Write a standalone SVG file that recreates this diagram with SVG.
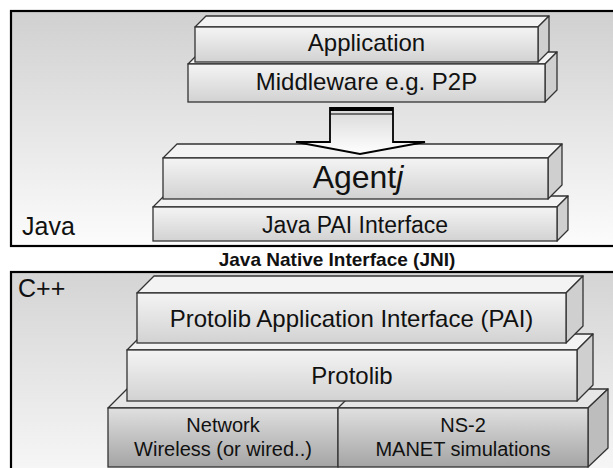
<svg xmlns="http://www.w3.org/2000/svg" width="613" height="468" viewBox="0 0 613 468">
<defs>
<linearGradient id="gJava" x1="0" y1="0" x2="0" y2="1">
<stop offset="0" stop-color="#d0d0d0"/><stop offset="1" stop-color="#fcfcfc"/>
</linearGradient>
<linearGradient id="gCpp" x1="0" y1="0" x2="0" y2="1">
<stop offset="0" stop-color="#d4d4d4"/><stop offset="1" stop-color="#f8f8f8"/>
</linearGradient>
<linearGradient id="gFront" x1="0" y1="0" x2="0" y2="1">
<stop offset="0" stop-color="#f4f4f4"/><stop offset="1" stop-color="#d2d2d2"/>
</linearGradient>
<linearGradient id="gFrontDark" x1="0" y1="0" x2="0" y2="1">
<stop offset="0" stop-color="#e0e0e0"/><stop offset="1" stop-color="#a4a4a4"/>
</linearGradient>
<linearGradient id="gArrow" x1="0" y1="0" x2="0" y2="1">
<stop offset="0" stop-color="#d8d8d8"/><stop offset="1" stop-color="#ffffff"/>
</linearGradient>
</defs>
<style>
.outer{stroke:#000;stroke-width:2.2}
.front{fill:url(#gFront);stroke:#333;stroke-width:1.3}
.frontd{fill:url(#gFrontDark);stroke:#333;stroke-width:1.3}
.top{fill:#f3f3f3;stroke:#333;stroke-width:1.3;stroke-linejoin:round}
.topd{fill:#e6e6e6;stroke:#333;stroke-width:1.3;stroke-linejoin:round}
.side{fill:#cfcfcf;stroke:#333;stroke-width:1.3;stroke-linejoin:round}
.sided{fill:#bdbdbd;stroke:#333;stroke-width:1.3;stroke-linejoin:round}
text{font-family:"Liberation Sans",Arial,Helvetica,sans-serif;fill:#111}
.c{text-anchor:middle}
</style>

<g id="java-layer">
<rect class="outer" x="11" y="11" width="612" height="235" fill="url(#gJava)"/>
<text x="22" y="235" font-size="25">Java</text>
</g>
<g id="cpp-layer">
<rect class="outer" x="11" y="272" width="612" height="210" fill="url(#gCpp)"/>
<text x="18" y="297" font-size="25">C++</text>
</g>
<g id="jni-label">
<text class="c" x="337" y="266" font-size="19" font-weight="bold">Java Native Interface (JNI)</text>
</g>

<g id="java-pai">
<polygon class="top" points="153,207 164,196 568,196 557,207"/>
<polygon class="side" points="557,207 568,196 568,230 557,241"/>
<rect class="front" x="153" y="207" width="404" height="34"/>
<text class="c" x="355" y="233" font-size="23">Java PAI Interface</text>
</g>
<g id="agentj">
<polygon class="top" points="163,158 177,144 562,144 548,158"/>
<polygon class="side" points="548,158 562,144 562,185 548,199"/>
<rect class="front" x="163" y="158" width="385" height="41"/>
<text class="c" x="358" y="188" font-size="32">Agent<tspan font-style="italic">j</tspan></text>
</g>
<g id="middleware">
<polygon class="top" points="188,64 200,52 557,52 545,64"/>
<polygon class="side" points="545,64 557,52 557,90 545,102"/>
<rect class="front" x="188" y="64" width="357" height="38"/>
<text class="c" x="366.5" y="90" font-size="24">Middleware e.g. P2P</text>
</g>
<g id="application">
<polygon class="top" points="195,27 206,16 549,16 538,27"/>
<polygon class="side" points="538,27 549,16 549,51 538,62"/>
<rect class="front" x="195" y="27" width="343" height="35"/>
<text class="c" x="366.5" y="51" font-size="24">Application</text>
</g>

<g id="connectors">
<polygon points="330,108 393,108 393,142 425,142 360,154 296,142 330,142" fill="url(#gArrow)" stroke="#000" stroke-width="1.8" stroke-linejoin="miter"/>
<line x1="330" y1="109.5" x2="393" y2="109.5" stroke="#000" stroke-width="3"/>
<line x1="330" y1="114" x2="393" y2="114" stroke="#000" stroke-width="1.2"/>
</g>

<g id="network-ns2">
<polygon class="topd" points="108,408 127,389 608,389 588,408"/>
<polygon class="sided" points="588,408 608,389 608,448 588,467"/>
<line x1="338" y1="408" x2="357" y2="389" stroke="#333" stroke-width="1.3"/>
</g>
<g id="network">
<rect class="frontd" x="108" y="408" width="230" height="59"/>
<text class="c" x="223" y="432" font-size="20">Network</text>
<text class="c" x="223" y="456" font-size="20">Wireless (or wired..)</text>
</g>
<g id="ns2">
<rect class="frontd" x="338" y="408" width="250" height="59"/>
<text class="c" x="463" y="432" font-size="20">NS-2</text>
<text class="c" x="463" y="456" font-size="20">MANET simulations</text>
</g>
<g id="protolib">
<polygon class="top" points="127,350 143,334 593,334 577,350"/>
<polygon class="side" points="577,350 593,334 593,385 577,401"/>
<rect class="front" x="127" y="350" width="450" height="51"/>
<text class="c" x="352" y="384" font-size="24">Protolib</text>
</g>
<g id="pai">
<polygon class="top" points="137,293 154,276 583,276 566,293"/>
<polygon class="side" points="566,293 583,276 583,326 566,343"/>
<rect class="front" x="137" y="293" width="429" height="50"/>
<text class="c" x="351.5" y="327" font-size="24">Protolib Application Interface (PAI)</text>
</g>
</svg>
